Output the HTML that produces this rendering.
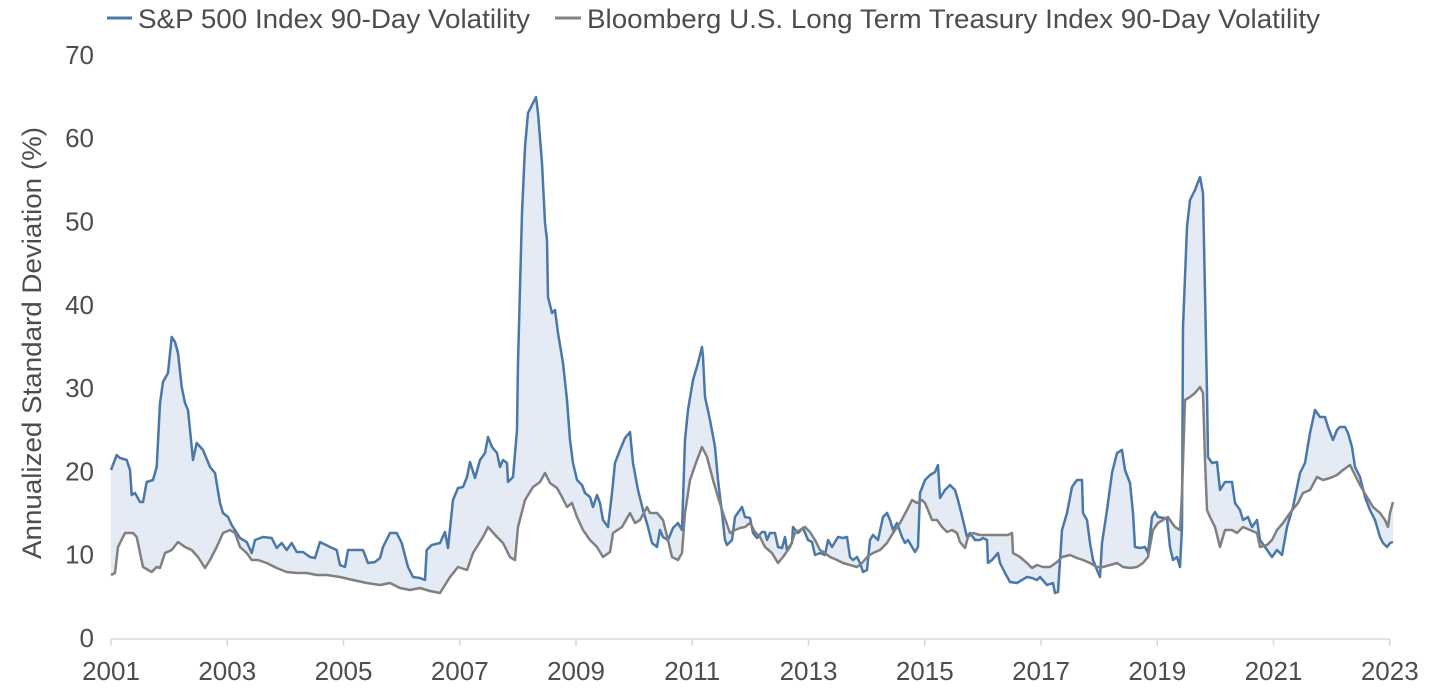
<!DOCTYPE html>
<html>
<head>
<meta charset="utf-8">
<style>
html,body{margin:0;padding:0;background:#fff;}
svg{display:block;}
text{font-family:"Liberation Sans",sans-serif;fill:#4d4d4d;}
</style>
</head>
<body>
<svg width="1430" height="698" viewBox="0 0 1430 698" xmlns="http://www.w3.org/2000/svg">
<!-- Legend -->
<line x1="107" y1="18" x2="132" y2="18" stroke="#4a78a8" stroke-width="3"/>
<text x="138" y="28" font-size="27" textLength="392" lengthAdjust="spacingAndGlyphs">S&amp;P 500 Index 90-Day Volatility</text>
<line x1="555" y1="18" x2="581" y2="18" stroke="#808080" stroke-width="3"/>
<text x="587" y="28" font-size="27" textLength="733" lengthAdjust="spacingAndGlyphs">Bloomberg U.S. Long Term Treasury Index 90-Day Volatility</text>

<!-- Y axis title -->
<text transform="translate(41,343) rotate(-90)" text-anchor="middle" font-size="27" textLength="432" lengthAdjust="spacingAndGlyphs">Annualized Standard Deviation (%)</text>

<!-- Y tick labels -->
<g font-size="26" text-anchor="end">
<text x="94" y="647">0</text>
<text x="94" y="563.7">10</text>
<text x="94" y="480.4">20</text>
<text x="94" y="397.1">30</text>
<text x="94" y="313.8">40</text>
<text x="94" y="230.5">50</text>
<text x="94" y="147.2">60</text>
<text x="94" y="63.9">70</text>
</g>

<!-- X axis -->
<line x1="111" y1="639" x2="1390" y2="639" stroke="#d9d9d9" stroke-width="1.5"/>
<g stroke="#d9d9d9" stroke-width="1.5">
<line x1="111" y1="639" x2="111" y2="646"/>
<line x1="227.25" y1="639" x2="227.25" y2="646"/>
<line x1="343.5" y1="639" x2="343.5" y2="646"/>
<line x1="459.75" y1="639" x2="459.75" y2="646"/>
<line x1="576" y1="639" x2="576" y2="646"/>
<line x1="692.25" y1="639" x2="692.25" y2="646"/>
<line x1="808.5" y1="639" x2="808.5" y2="646"/>
<line x1="924.75" y1="639" x2="924.75" y2="646"/>
<line x1="1041" y1="639" x2="1041" y2="646"/>
<line x1="1157.25" y1="639" x2="1157.25" y2="646"/>
<line x1="1273.5" y1="639" x2="1273.5" y2="646"/>
<line x1="1389.75" y1="639" x2="1389.75" y2="646"/>
</g>
<g font-size="26" text-anchor="middle">
<text x="111" y="680">2001</text>
<text x="227.25" y="680">2003</text>
<text x="343.5" y="680">2005</text>
<text x="459.75" y="680">2007</text>
<text x="576" y="680">2009</text>
<text x="692.25" y="680">2011</text>
<text x="808.5" y="680">2013</text>
<text x="924.75" y="680">2015</text>
<text x="1041" y="680">2017</text>
<text x="1157.25" y="680">2019</text>
<text x="1273.5" y="680">2021</text>
<text x="1389.75" y="680">2023</text>
</g>

<!-- Fill between (evenodd of two areas) -->
<path fill="#e4ebf4" fill-rule="evenodd" d="
M111,639 L111,470 116.7,455 120,458 126.7,460 130,470 131.7,495 135,493 140,502 143,502 146.7,482 153,480 156.7,467 160,403 163,382 168,373 171.7,337 175,342 178,353 181.7,387 185,403 188,410 193,460 196.7,443 203,450 210,467 215,473 220,503 223,513 228,517 231.7,525 240,538 246.7,542 251.7,553 255,540 263,537 271.7,538 276.7,548 281.7,543 286.7,550 291.7,543 296.7,552 303,552 310,557 315,558 320,542 330,547 336.7,550 340,565 345,567 348,550 356.7,550 363,550 368,563 375,562 380,558 383,547 390,533 396.7,533 401.7,543 408,567 413,577 420,578 425,580 426.7,550 431.7,545 440,543 445,532 448,548 453,500 458,488 463,487 467,477 470,462 475,478 480,460 485,453 488,437 492,447 497,453 500,467 503,460 507,463 508,482 513,477 517,430 518,363 522,213 525,147 528,113 533,103 536,97 538,113 542,163 545,223 547,240 548,297 552,313 555,310 558,333 563,363 567,400 570,440 573,463 577,480 582,485 585,493 590,497 593,507 597,495 600,503 603,520 608,527 612,493 615,463 620,450 625,438 630,432 633,463 638,490 643,510 648,527 652,543 657,547 660,530 663,537 668,540 673,528 678,523 682,530 685,440 688,410 693,380 698,363 702,347 703,357 705,397 710,420 715,447 718,480 722,513 725,540 727,545 732,540 735,517 742,507 745,517 750,518 753,533 757,538 762,532 765,532 767,540 770,533 775,533 778,547 782,548 785,537 787,550 792,543 793,527 798,533 803,528 808,540 812,542 815,555 820,553 825,555 828,540 832,547 838,537 843,538 847,537 850,557 853,560 857,557 860,563 863,572 867,570 870,540 873,535 878,540 883,517 887,513 890,520 893,530 897,523 902,537 905,543 908,540 912,547 915,552 918,547 920,493 925,480 930,475 935,472 938,465 940,498 945,490 950,485 955,490 958,500 963,520 967,537 970,533 975,540 980,540 983,538 987,540 988,563 992,560 998,553 1000,563 1005,573 1010,582 1017,583 1022,580 1027,577 1032,578 1037,580 1040,577 1047,585 1053,583 1055,593 1058,592 1062,530 1067,513 1072,487 1077,480 1082,480 1083,513 1087,520 1090,543 1093,560 1097,570 1100,577 1102,543 1107,510 1112,473 1117,453 1122,450 1125,470 1130,483 1133,513 1135,547 1140,548 1145,547 1148,553 1152,517 1155,512 1158,517 1163,518 1167,518 1170,547 1173,560 1177,557 1180,567 1182,527 1183,327 1187,227 1190,200 1195,190 1200,177 1203,193 1205,293 1207,393 1208,457 1212,463 1217,462 1220,490 1225,482 1232,482 1235,503 1240,510 1243,520 1248,517 1252,527 1257,520 1260,540 1265,547 1272,557 1277,550 1282,555 1287,527 1293,507 1300,473 1305,463 1310,433 1315,410 1320,417 1325,417 1328,427 1333,440 1337,430 1340,427 1345,427 1348,433 1352,447 1355,467 1360,477 1365,497 1370,510 1375,520 1380,537 1383,543 1387,547 1390,543 1393,542 L1393,639 Z
M111,639 L111,575 115,573 118,547 125,533 133,533 136.7,537 143,567 151.7,572 156.7,567 160,568 165,553 171.7,550 178,542 185,547 191.7,550 198,557 205,568 210,560 216.7,547 223,533 230,530 235,533 240,547 246.7,553 251.7,560 258,560 266.7,563 276.7,568 286.7,572 296.7,573 306.7,573 316.7,575 326.7,575 340,577 353,580 366.7,583 380,585 390,583 400,588 410,590 420,588 430,591 440,593 450,577 458,567 467,570 473,553 483,537 488,527 497,537 503,543 510,557 515,560 518,527 525,500 533,487 540,482 545,473 550,483 557,488 562,497 567,507 572,503 577,517 583,530 590,540 597,547 603,557 610,552 613,533 622,527 630,513 635,523 640,520 647,507 650,513 657,513 663,520 668,540 672,557 678,560 682,553 685,513 690,480 697,460 702,447 707,457 713,480 718,497 723,513 730,533 735,530 740,528 745,527 750,523 755,532 760,537 765,547 772,553 778,563 783,557 790,547 795,533 800,530 805,527 810,532 815,540 820,550 825,553 830,557 837,560 843,563 850,565 857,567 862,563 867,557 873,553 880,550 887,543 893,533 900,523 907,510 912,500 917,503 922,500 925,503 928,510 932,520 937,520 942,527 947,532 952,530 957,533 960,542 965,548 968,537 973,533 980,535 987,535 993,535 1000,535 1008,535 1012,533 1013,553 1020,557 1027,563 1032,568 1037,565 1043,567 1050,567 1057,562 1062,557 1070,555 1077,558 1083,560 1090,563 1097,567 1103,567 1110,565 1117,563 1123,567 1130,568 1137,567 1143,563 1148,557 1153,530 1158,523 1163,520 1168,517 1172,523 1175,527 1180,530 1182,493 1185,400 1190,397 1195,393 1200,387 1203,393 1205,460 1207,510 1210,517 1215,527 1220,547 1225,530 1232,530 1237,533 1243,527 1250,530 1257,533 1260,547 1267,545 1272,540 1277,530 1283,523 1290,513 1298,503 1303,493 1310,490 1317,477 1323,480 1330,478 1337,475 1343,470 1350,465 1355,475 1360,485 1367,497 1373,507 1380,513 1385,520 1388,527 1390,513 1393,502 L1393,639 Z"/>

<!-- Blue series -->
<polyline fill="none" stroke="#4a78a8" stroke-width="2.5" stroke-linejoin="round" points="111,470 116.7,455 120,458 126.7,460 130,470 131.7,495 135,493 140,502 143,502 146.7,482 153,480 156.7,467 160,403 163,382 168,373 171.7,337 175,342 178,353 181.7,387 185,403 188,410 193,460 196.7,443 203,450 210,467 215,473 220,503 223,513 228,517 231.7,525 240,538 246.7,542 251.7,553 255,540 263,537 271.7,538 276.7,548 281.7,543 286.7,550 291.7,543 296.7,552 303,552 310,557 315,558 320,542 330,547 336.7,550 340,565 345,567 348,550 356.7,550 363,550 368,563 375,562 380,558 383,547 390,533 396.7,533 401.7,543 408,567 413,577 420,578 425,580 426.7,550 431.7,545 440,543 445,532 448,548 453,500 458,488 463,487 467,477 470,462 475,478 480,460 485,453 488,437 492,447 497,453 500,467 503,460 507,463 508,482 513,477 517,430 518,363 522,213 525,147 528,113 533,103 536,97 538,113 542,163 545,223 547,240 548,297 552,313 555,310 558,333 563,363 567,400 570,440 573,463 577,480 582,485 585,493 590,497 593,507 597,495 600,503 603,520 608,527 612,493 615,463 620,450 625,438 630,432 633,463 638,490 643,510 648,527 652,543 657,547 660,530 663,537 668,540 673,528 678,523 682,530 685,440 688,410 693,380 698,363 702,347 703,357 705,397 710,420 715,447 718,480 722,513 725,540 727,545 732,540 735,517 742,507 745,517 750,518 753,533 757,538 762,532 765,532 767,540 770,533 775,533 778,547 782,548 785,537 787,550 792,543 793,527 798,533 803,528 808,540 812,542 815,555 820,553 825,555 828,540 832,547 838,537 843,538 847,537 850,557 853,560 857,557 860,563 863,572 867,570 870,540 873,535 878,540 883,517 887,513 890,520 893,530 897,523 902,537 905,543 908,540 912,547 915,552 918,547 920,493 925,480 930,475 935,472 938,465 940,498 945,490 950,485 955,490 958,500 963,520 967,537 970,533 975,540 980,540 983,538 987,540 988,563 992,560 998,553 1000,563 1005,573 1010,582 1017,583 1022,580 1027,577 1032,578 1037,580 1040,577 1047,585 1053,583 1055,593 1058,592 1062,530 1067,513 1072,487 1077,480 1082,480 1083,513 1087,520 1090,543 1093,560 1097,570 1100,577 1102,543 1107,510 1112,473 1117,453 1122,450 1125,470 1130,483 1133,513 1135,547 1140,548 1145,547 1148,553 1152,517 1155,512 1158,517 1163,518 1167,518 1170,547 1173,560 1177,557 1180,567 1182,527 1183,327 1187,227 1190,200 1195,190 1200,177 1203,193 1205,293 1207,393 1208,457 1212,463 1217,462 1220,490 1225,482 1232,482 1235,503 1240,510 1243,520 1248,517 1252,527 1257,520 1260,540 1265,547 1272,557 1277,550 1282,555 1287,527 1293,507 1300,473 1305,463 1310,433 1315,410 1320,417 1325,417 1328,427 1333,440 1337,430 1340,427 1345,427 1348,433 1352,447 1355,467 1360,477 1365,497 1370,510 1375,520 1380,537 1383,543 1387,547 1390,543 1393,542"/>

<!-- Gray series -->
<polyline fill="none" stroke="#808080" stroke-width="2.5" stroke-linejoin="round" points="111,575 115,573 118,547 125,533 133,533 136.7,537 143,567 151.7,572 156.7,567 160,568 165,553 171.7,550 178,542 185,547 191.7,550 198,557 205,568 210,560 216.7,547 223,533 230,530 235,533 240,547 246.7,553 251.7,560 258,560 266.7,563 276.7,568 286.7,572 296.7,573 306.7,573 316.7,575 326.7,575 340,577 353,580 366.7,583 380,585 390,583 400,588 410,590 420,588 430,591 440,593 450,577 458,567 467,570 473,553 483,537 488,527 497,537 503,543 510,557 515,560 518,527 525,500 533,487 540,482 545,473 550,483 557,488 562,497 567,507 572,503 577,517 583,530 590,540 597,547 603,557 610,552 613,533 622,527 630,513 635,523 640,520 647,507 650,513 657,513 663,520 668,540 672,557 678,560 682,553 685,513 690,480 697,460 702,447 707,457 713,480 718,497 723,513 730,533 735,530 740,528 745,527 750,523 755,532 760,537 765,547 772,553 778,563 783,557 790,547 795,533 800,530 805,527 810,532 815,540 820,550 825,553 830,557 837,560 843,563 850,565 857,567 862,563 867,557 873,553 880,550 887,543 893,533 900,523 907,510 912,500 917,503 922,500 925,503 928,510 932,520 937,520 942,527 947,532 952,530 957,533 960,542 965,548 968,537 973,533 980,535 987,535 993,535 1000,535 1008,535 1012,533 1013,553 1020,557 1027,563 1032,568 1037,565 1043,567 1050,567 1057,562 1062,557 1070,555 1077,558 1083,560 1090,563 1097,567 1103,567 1110,565 1117,563 1123,567 1130,568 1137,567 1143,563 1148,557 1153,530 1158,523 1163,520 1168,517 1172,523 1175,527 1180,530 1182,493 1185,400 1190,397 1195,393 1200,387 1203,393 1205,460 1207,510 1210,517 1215,527 1220,547 1225,530 1232,530 1237,533 1243,527 1250,530 1257,533 1260,547 1267,545 1272,540 1277,530 1283,523 1290,513 1298,503 1303,493 1310,490 1317,477 1323,480 1330,478 1337,475 1343,470 1350,465 1355,475 1360,485 1367,497 1373,507 1380,513 1385,520 1388,527 1390,513 1393,502"/>
</svg>
</body>
</html>
